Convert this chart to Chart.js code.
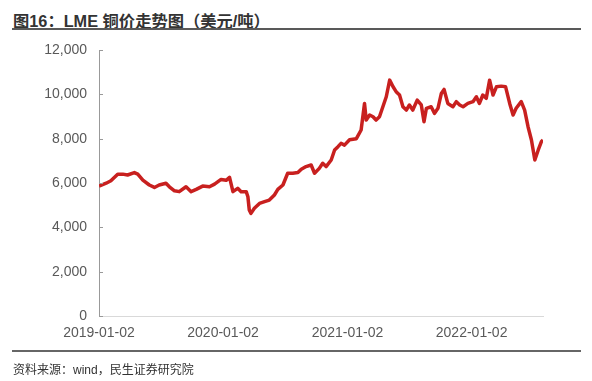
<!DOCTYPE html>
<html>
<head>
<meta charset="utf-8">
<script src="https://cdn.jsdelivr.net/npm/chart.js@4.4.0/dist/chart.umd.min.js"></script>
<style>
  body { margin: 0; background: #fff; }
  #wrap { position: relative; width: 592px; height: 381px; overflow: hidden; }
  #title { position: absolute; left: 13px; top: 8px; font: bold 16.3px "Liberation Sans", "Noto Sans CJK SC", sans-serif; color: #333; white-space: nowrap; }
  .rule { position: absolute; left: 12px; width: 569px; height: 2px; background: #595959; }
  #source { position: absolute; left: 13px; top: 360px; font: 12px "Liberation Sans", "Noto Sans CJK SC", sans-serif; color: #333; white-space: nowrap; }
  canvas { position: absolute; left: 0; top: 0; }
</style>
</head>
<body>
<div id="wrap">
  <div id="title">图16：LME 铜价走势图（美元/吨）</div>
  <div class="rule" style="top:28px"></div>
  <canvas id="c" width="592" height="381"></canvas>
  <div class="rule" style="top:350px;height:1.5px;background:#666"></div>
  <div id="source">资料来源：wind，民生证券研究院</div>
</div>
<script>
// LME 铜价（美元/吨）
const dates = [
  '2019-01-02','2019-01-23','2019-02-06','2019-02-26','2019-03-13','2019-03-27','2019-04-16','2019-04-26',
  '2019-05-11','2019-05-30','2019-06-14','2019-06-28','2019-07-18','2019-07-28','2019-08-12','2019-08-26',
  '2019-09-15','2019-09-30','2019-10-15','2019-11-03','2019-11-23','2019-12-08','2019-12-27','2020-01-11',
  '2020-01-21','2020-01-31','2020-02-14','2020-02-24','2020-03-10','2020-03-15','2020-03-19','2020-03-24',
  '2020-04-03','2020-04-18','2020-05-03','2020-05-17','2020-06-01','2020-06-11','2020-06-26','2020-07-10',
  '2020-07-25','2020-08-09','2020-08-19','2020-09-02','2020-09-17','2020-09-27','2020-10-11','2020-10-21',
  '2020-10-31','2020-11-15','2020-11-25','2020-12-05','2020-12-14','2020-12-24','2021-01-08','2021-01-28',
  '2021-02-11','2021-02-21','2021-02-26','2021-03-08','2021-03-18','2021-03-27','2021-04-06','2021-04-16',
  '2021-04-26','2021-05-06','2021-05-16','2021-05-25','2021-06-04','2021-06-14','2021-06-24','2021-07-03',
  '2021-07-13','2021-07-26','2021-08-07','2021-08-15','2021-08-22','2021-09-05','2021-09-15','2021-09-25',
  '2021-10-05','2021-10-13','2021-10-24','2021-11-08','2021-11-18','2021-11-28','2021-12-08','2021-12-22',
  '2022-01-06','2022-01-16','2022-01-25','2022-02-04','2022-02-14','2022-02-24','2022-03-06','2022-03-16',
  '2022-03-30','2022-04-12','2022-04-24','2022-05-04','2022-05-13','2022-05-28','2022-06-07','2022-06-17',
  '2022-06-27','2022-07-07','2022-07-17','2022-07-26','2022-07-31'
];
const prices = [
  5860, 5990, 6100, 6400, 6400, 6360, 6470, 6400,
  6130, 5910, 5800, 5910, 5990, 5830, 5650, 5610,
  5830, 5610, 5710, 5860, 5830, 5950, 6160, 6120,
  6250, 5610, 5760, 5610, 5610, 5380, 4780, 4630,
  4860, 5080, 5160, 5230, 5460, 5710, 5910, 6440,
  6440, 6470, 6620, 6740, 6810, 6440, 6660, 6890,
  6740, 7040, 7490, 7640, 7790, 7710, 7950, 8000,
  8390, 9590, 8840, 9070, 8990, 8840, 8990, 9440,
  9890, 10640, 10340, 10120, 9970, 9440, 9290, 9520,
  9290, 9740, 9520, 8760, 9370, 9440, 9140, 9370,
  10040, 10220, 9590, 9440, 9670, 9520, 9440, 9590,
  9670, 9890, 9590, 9970, 9820, 10640, 9970, 10340,
  10370, 10340, 9590, 9070, 9370, 9670, 9290, 8540,
  7940, 7040, 7490, 7860, 7940
];
const tickDates = ['2019-01-02', '2020-01-02', '2021-01-02', '2022-01-02'];
const yTicks = [0, 2000, 4000, 6000, 8000, 10000, 12000];

const DAY = 86400000;
const t0 = Date.parse(dates[0]);
const dayOf = s => Math.round((Date.parse(s) - t0) / DAY);
const points = dates.map((d, i) => ({ x: dayOf(d), y: prices[i] }));
const tickDays = tickDates.map(dayOf);

// y 轴内向刻度
const innerTicks = {
  id: 'innerTicks',
  afterDraw(chart) {
    const ctx = chart.ctx, ys = chart.scales.y, left = chart.chartArea.left;
    ctx.save();
    ctx.strokeStyle = '#999';
    ctx.lineWidth = 1;
    yTicks.forEach(v => {
      const py = Math.round(ys.getPixelForValue(v)) + 0.5;
      ctx.beginPath(); ctx.moveTo(left, py); ctx.lineTo(left + 4, py); ctx.stroke();
    });
    ctx.restore();
  }
};

new Chart(document.getElementById('c'), {
  type: 'line',
  data: {
    datasets: [{
      data: points,
      borderColor: '#c8201f',
      borderWidth: 3.5,
      borderJoinStyle: 'round',
      pointRadius: 0,
      tension: 0,
      fill: false
    }]
  },
  options: {
    responsive: false,
    animation: false,
    layout: { padding: { left: 0, right: 49, top: 50, bottom: 35 } },
    plugins: { legend: { display: false }, tooltip: { enabled: false } },
    scales: {
      x: {
        type: 'linear',
        min: 0,
        max: points[points.length - 1].x,
        afterBuildTicks: axis => { axis.ticks = tickDays.map(v => ({ value: v })); },
        afterFit: axis => { axis.height = 30; },
        grid: { display: false, drawTicks: false },
        border: { display: true, color: '#d9d9d9', width: 1 },
        ticks: {
          padding: 9,
          autoSkip: false,
          maxRotation: 0,
          color: '#595959',
          font: { family: 'Liberation Sans', size: 14 },
          callback: v => tickDates[tickDays.indexOf(v)] || ''
        }
      },
      y: {
        min: 0,
        max: 12000,
        afterBuildTicks: axis => { axis.ticks = yTicks.map(v => ({ value: v })); },
        afterFit: axis => { axis.width = 99; },
        grid: { display: false, drawTicks: false },
        border: { display: true, color: '#999', width: 1 },
        ticks: {
          padding: 12,
          color: '#595959',
          font: { family: 'Liberation Sans', size: 14 },
          callback: v => v.toLocaleString('en-US')
        }
      }
    }
  },
  plugins: [innerTicks]
});
</script>
</body>
</html>
